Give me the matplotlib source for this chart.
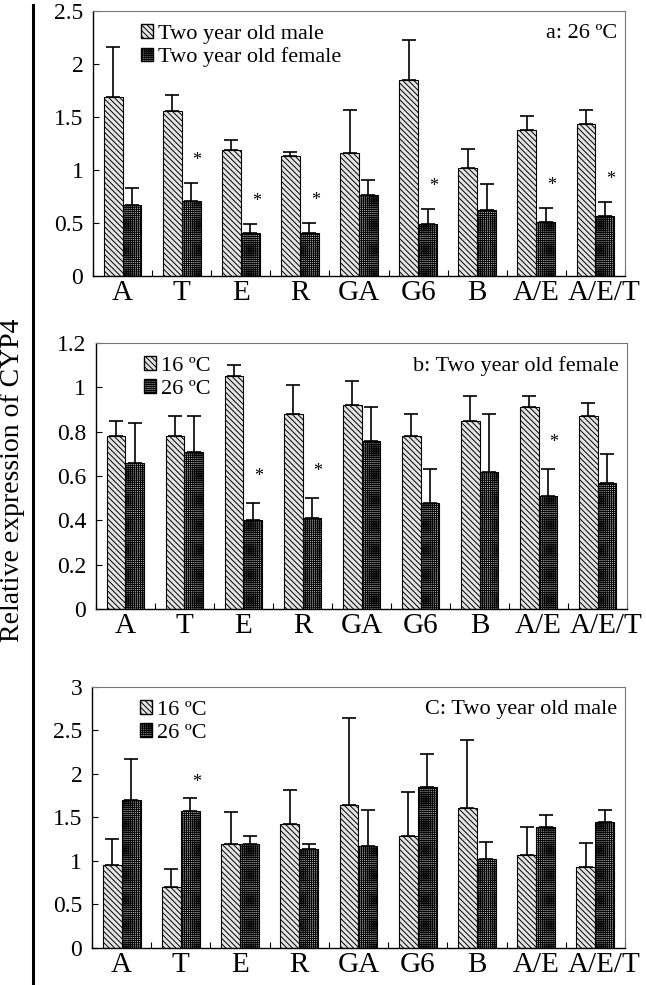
import numpy as np
import matplotlib
matplotlib.use("Agg")
import matplotlib.pyplot as plt
import matplotlib.transforms as mtransforms
from matplotlib.patches import Patch

plt.rcParams['font.family'] = ['Liberation Serif', 'DejaVu Serif']
plt.rcParams['hatch.linewidth'] = 0.7

categorias = ['A', 'T', 'E', 'R', 'GA', 'G6', 'B', 'A/E', 'A/E/T']

# Panel a: 26 ºC, macho vs hembra
a_macho = [1.69, 1.56, 1.19, 1.13, 1.16, 1.85, 1.02, 1.38, 1.43]
a_macho_err = [0.47, 0.15, 0.09, 0.04, 0.41, 0.38, 0.18, 0.13, 0.14]
a_hembra = [0.67, 0.71, 0.41, 0.41, 0.76, 0.49, 0.62, 0.51, 0.57]
a_hembra_err = [0.16, 0.17, 0.08, 0.09, 0.15, 0.14, 0.25, 0.13, 0.13]
a_estrellas = [1, 2, 3, 5, 7, 8]

# Panel b: hembra, 16 ºC vs 26 ºC
b_16 = [0.78, 0.78, 1.05, 0.88, 0.92, 0.78, 0.85, 0.91, 0.87]
b_16_err = [0.07, 0.09, 0.05, 0.13, 0.11, 0.10, 0.11, 0.05, 0.06]
b_26 = [0.66, 0.71, 0.40, 0.41, 0.76, 0.48, 0.62, 0.51, 0.57]
b_26_err = [0.18, 0.16, 0.08, 0.09, 0.15, 0.15, 0.26, 0.12, 0.13]
b_estrellas = [2, 3, 7]

# Panel c: macho, 16 ºC vs 26 ºC
c_16 = [0.95, 0.70, 1.20, 1.43, 1.64, 1.29, 1.61, 1.07, 0.93]
c_16_err = [0.30, 0.21, 0.36, 0.39, 1.00, 0.50, 0.78, 0.32, 0.28]
c_26 = [1.70, 1.57, 1.19, 1.14, 1.17, 1.85, 1.02, 1.39, 1.45]
c_26_err = [0.47, 0.15, 0.10, 0.05, 0.41, 0.38, 0.20, 0.14, 0.13]
c_estrellas = [1]

fig = plt.figure(figsize=(6.46, 9.85), dpi=100)

ancho = 0.32
x = np.arange(len(categorias))
claro = dict(facecolor='#e4e4e4', edgecolor='black', hatch='\\\\\\\\\\\\')
oscuro = dict(facecolor='#b8b8b8', edgecolor='black', hatch='++++++++')


def panel(pos, v1, e1, v2, e2, ymax, paso, etiquetas, titulo, estrellas, dest):
    ax = fig.add_axes(pos)
    ax.bar(x - ancho / 2, v1, ancho, linewidth=0.8, zorder=2, **claro)
    ax.bar(x + ancho / 2, v2, ancho, linewidth=0.8, zorder=2, **oscuro)
    ax.errorbar(x - ancho / 2, v1, yerr=[np.zeros(len(v1)), e1], fmt='none',
                ecolor='black', elinewidth=1.2, capsize=5, capthick=1.2, zorder=3)
    ax.errorbar(x + ancho / 2, v2, yerr=[np.zeros(len(v2)), e2], fmt='none',
                ecolor='black', elinewidth=1.2, capsize=5, capthick=1.2, zorder=3)
    # asteriscos de significancia
    for i in estrellas:
        ax.text(x[i] + ancho / 2 + 0.1, v2[i] + e2[i] + dest, '*',
                ha='center', va='center', fontsize=13)
    ax.set_xlim(-0.5, len(categorias) - 0.5)
    ax.set_ylim(0, ymax)
    ticks = np.arange(0, ymax + paso / 2, paso)
    ax.set_yticks(ticks)
    ax.set_yticklabels(['%g' % t for t in ticks])
    ax.set_xticks(x)
    ax.set_xticklabels(categorias)
    ax.set_xticks(np.arange(-0.5, len(categorias), 1.0), minor=True)
    ax.tick_params(axis='x', which='major', length=0, labelsize=21, pad=3)
    ax.tick_params(axis='x', which='minor', length=4, direction='in', width=0.8)
    ax.tick_params(axis='y', direction='in', length=4, width=0.8, labelsize=17,
                   pad=7)
    # la ultima etiqueta va un poco a la derecha, como en el original
    ultima = ax.get_xticklabels()[-1]
    ultima.set_transform(ultima.get_transform() +
                         mtransforms.ScaledTranslation(0.09, 0, fig.dpi_scale_trans))
    for s in ['top', 'right']:
        ax.spines[s].set_color('#777777')
        ax.spines[s].set_linewidth(0.8)
    for s in ['left', 'bottom']:
        ax.spines[s].set_linewidth(1.0)
    handles = [Patch(**claro), Patch(**oscuro)]
    ax.legend(handles, etiquetas, loc='upper left', bbox_to_anchor=(0.065, 1.0),
              frameon=False, fontsize=16, handlelength=0.55, handleheight=0.55,
              handletextpad=0.2, labelspacing=0.15, borderaxespad=0.2)
    ax.text(0.985, 0.95, titulo, transform=ax.transAxes, ha='right', va='top',
            fontsize=16)
    return ax


panel([0.144, 0.7198, 0.8235, 0.269], a_macho, a_macho_err, a_hembra, a_hembra_err,
      2.5, 0.5, ['Two year old male', 'Two year old female'], 'a: 26 ºC',
      a_estrellas, 0.21)
panel([0.1486, 0.3817, 0.822, 0.270], b_16, b_16_err, b_26, b_26_err,
      1.2, 0.2, ['16 ºC', '26 ºC'], 'b: Two year old female',
      b_estrellas, 0.12)
panel([0.1424, 0.0376, 0.825, 0.265], c_16, c_16_err, c_26, c_26_err,
      3.0, 0.5, ['16 ºC', '26 ºC'], 'C: Two year old male',
      c_estrellas, 0.18)

fig.text(0.019, 0.512, 'Relative expression of CYP4', rotation=90,
         ha='center', va='center', fontsize=20)
fig.add_artist(plt.Line2D([0.051, 0.051], [0.0, 0.995], color='black',
                          linewidth=2.2, transform=fig.transFigure))

fig.savefig('out.png', dpi=100)
